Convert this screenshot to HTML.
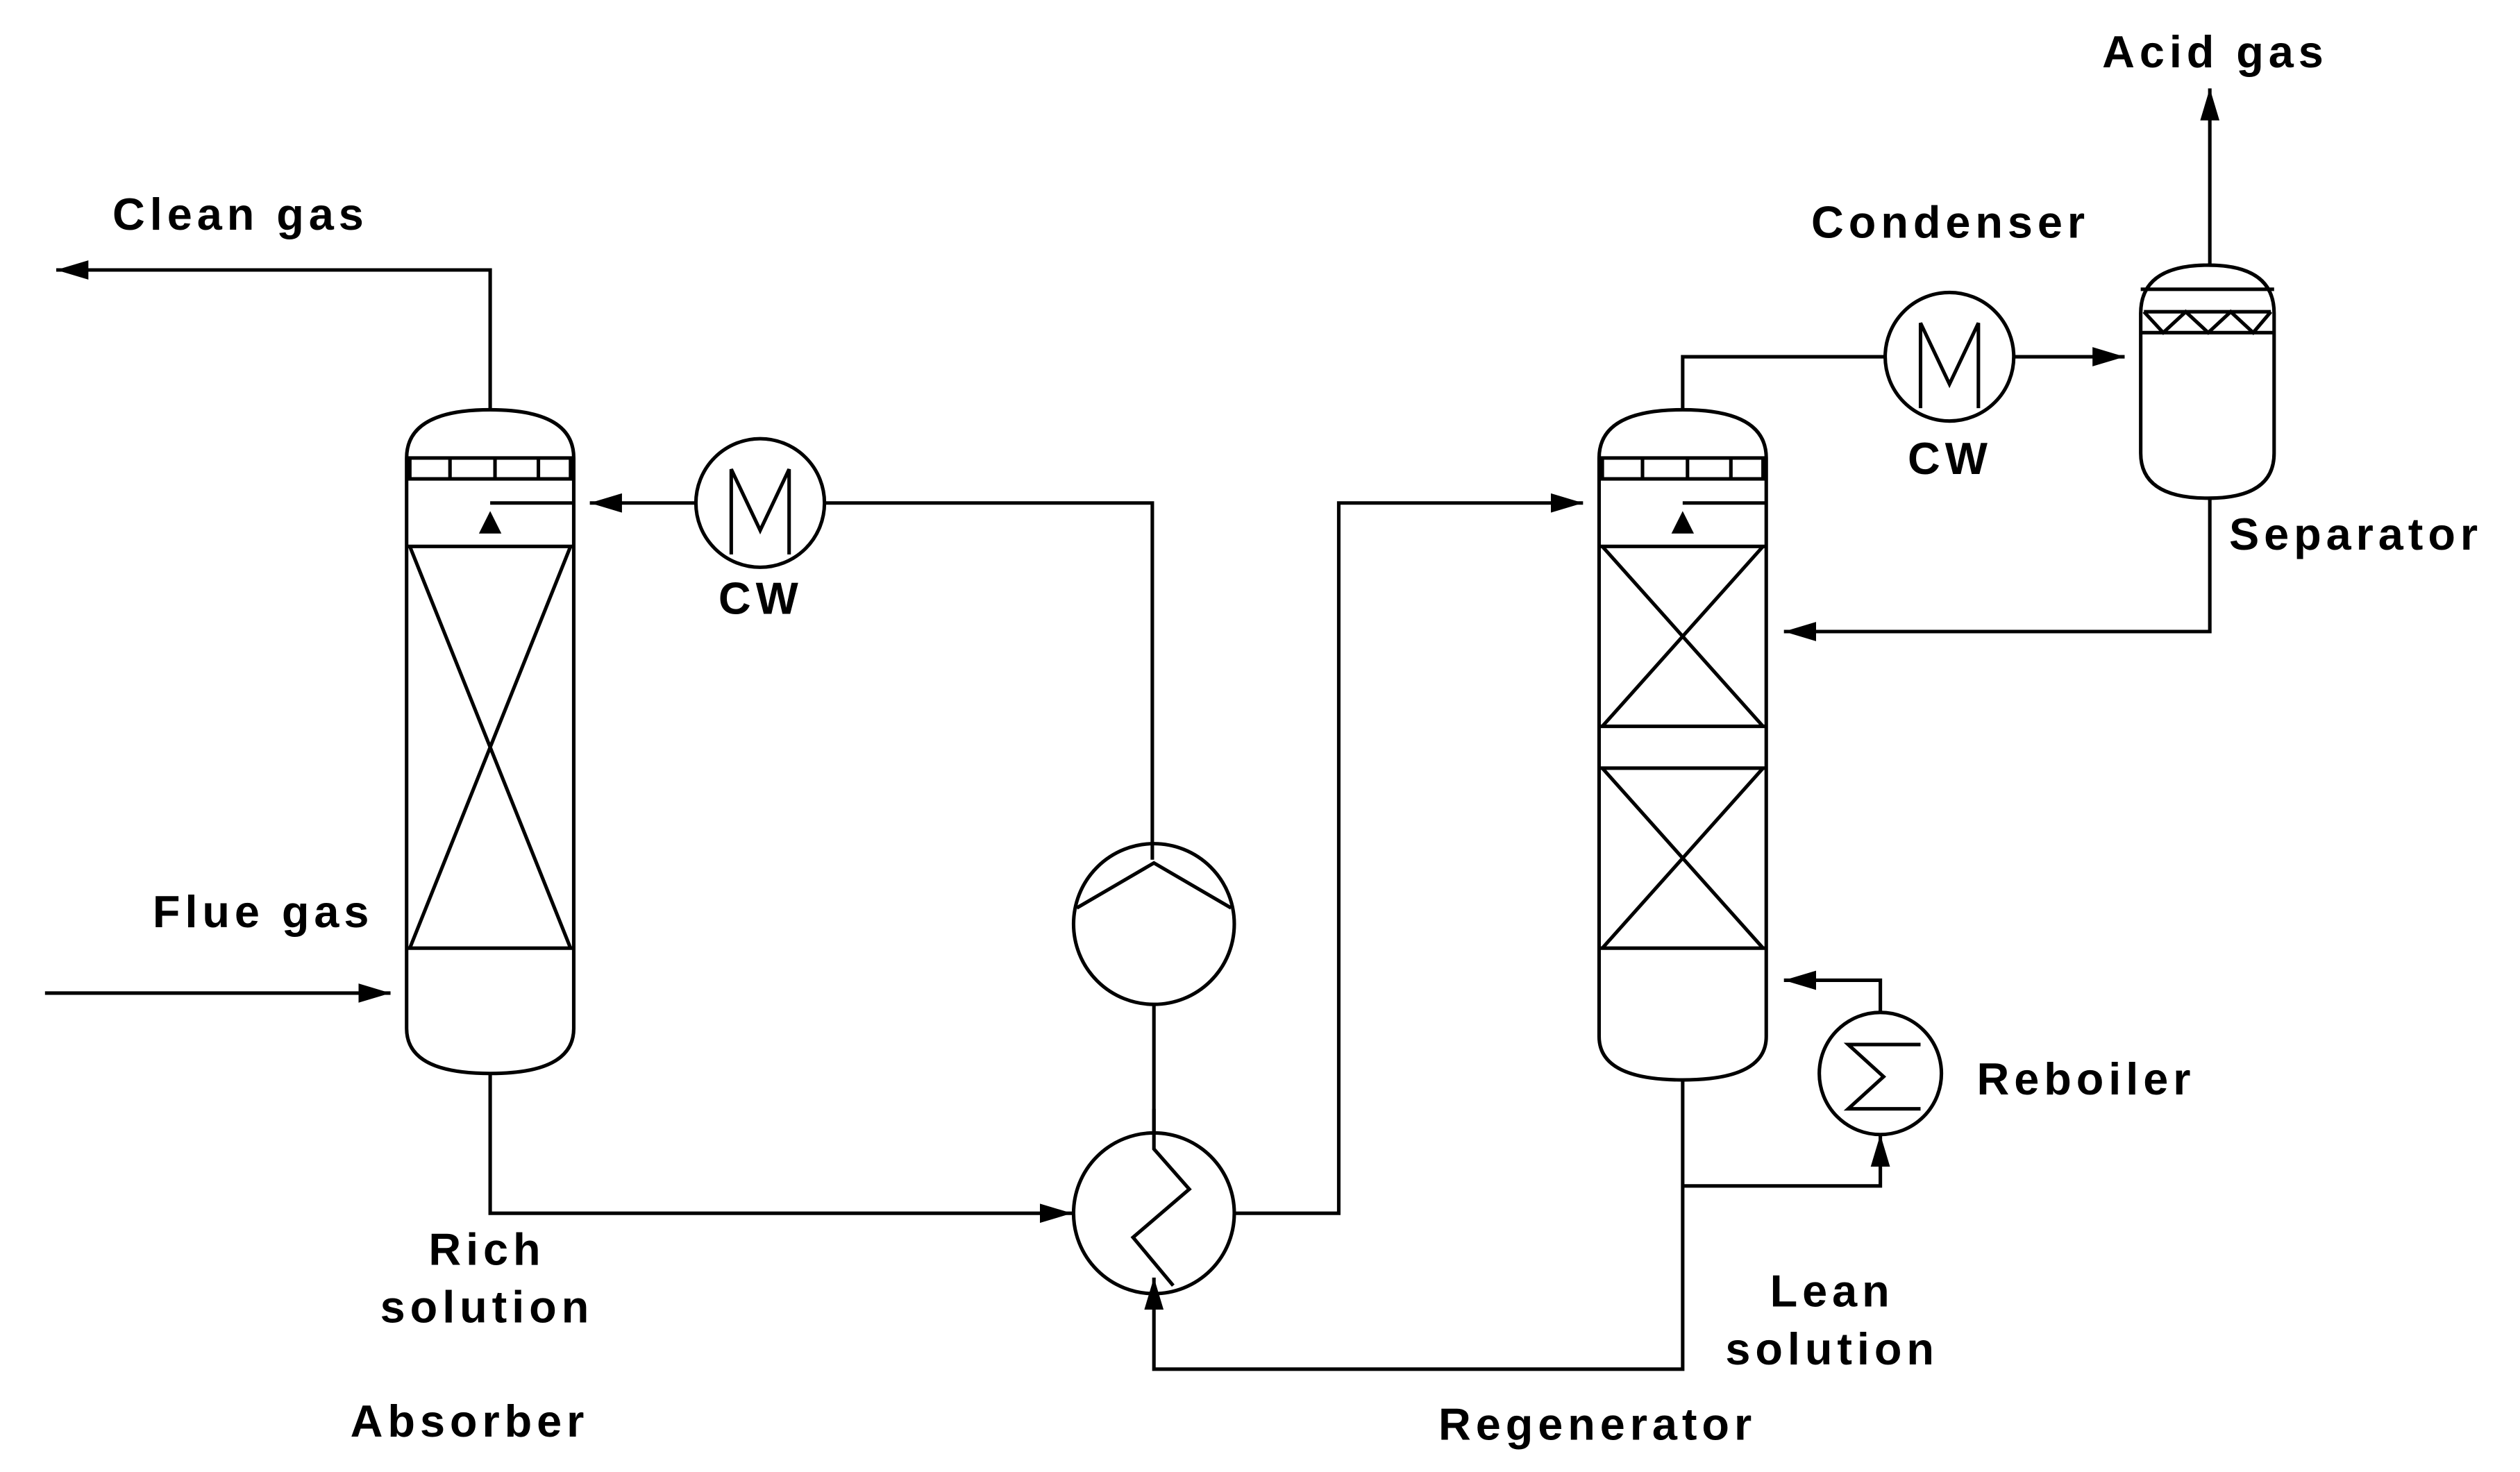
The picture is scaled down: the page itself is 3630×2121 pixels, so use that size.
<!DOCTYPE html>
<html><head><meta charset="utf-8"><style>html,body{margin:0;padding:0;background:#fff}svg{display:block}</style></head>
<body>
<svg width="3630" height="2121" viewBox="0 0 1568 916" preserveAspectRatio="none" xmlns="http://www.w3.org/2000/svg">
<defs>
<marker id="b" viewBox="0 0 20 12" markerWidth="20" markerHeight="12" refX="20" refY="6" orient="auto" markerUnits="userSpaceOnUse"><path d="M0,0 L20,6 L0,12z"/></marker></defs>
<g fill="none" stroke="#000" stroke-width="2.2">
<path d="M253,285 Q253,255 305,255 Q357,255 357,285 L357,640 Q357,668 305,668 Q253,668 253,640 Z"/>
<rect x="255" y="285" width="100" height="13"/>
<line x1="280" y1="285" x2="280" y2="298"/><line x1="308" y1="285" x2="308" y2="298"/><line x1="335" y1="285" x2="335" y2="298"/>
<line x1="253" y1="340" x2="357" y2="340"/><line x1="253" y1="590" x2="357" y2="590"/>
<line x1="255" y1="340" x2="355" y2="590"/><line x1="355" y1="340" x2="255" y2="590"/>
<line x1="305" y1="313" x2="357" y2="313"/>
<polyline points="305,255 305,168 35,168" marker-end="url(#b)"/>
<line x1="28" y1="618" x2="243" y2="618" marker-end="url(#b)"/>
<circle cx="473" cy="313" r="40"/>
<polyline points="455,345 455,292 473,330 491,292 491,345"/>
<line x1="433" y1="313" x2="367" y2="313" marker-end="url(#b)"/>
<polyline points="513,313 717,313 717,535"/>
<circle cx="718" cy="575" r="50"/>
<polyline points="670,565 718,537 766,565"/>
<line x1="718" y1="625" x2="718" y2="705"/>
<circle cx="718" cy="755" r="50"/>
<polyline points="718,690 718,715 740,740 705,770 730,800"/>
<polyline points="305,668 305,755 667,755" marker-end="url(#b)"/>
<polyline points="768,755 833,755 833,313 985,313" marker-end="url(#b)"/>
<polyline points="1047,672 1047,852 718,852 718,795" marker-end="url(#b)"/>
<path d="M995,285 Q995,255 1047,255 Q1099,255 1099,285 L1099,645 Q1099,672 1047,672 Q995,672 995,645 Z"/>
<rect x="997" y="285" width="100" height="13"/>
<line x1="1022" y1="285" x2="1022" y2="298"/><line x1="1050" y1="285" x2="1050" y2="298"/><line x1="1077" y1="285" x2="1077" y2="298"/>
<line x1="1047" y1="313" x2="1099" y2="313"/>
<line x1="995" y1="340" x2="1099" y2="340"/><line x1="995" y1="452" x2="1099" y2="452"/>
<line x1="995" y1="478" x2="1099" y2="478"/><line x1="995" y1="590" x2="1099" y2="590"/>
<line x1="997" y1="340" x2="1097" y2="452"/><line x1="1097" y1="340" x2="997" y2="452"/>
<line x1="997" y1="478" x2="1097" y2="590"/><line x1="1097" y1="478" x2="997" y2="590"/>
<polyline points="1047,255 1047,222 1173,222"/>
<circle cx="1213" cy="222" r="40"/>
<polyline points="1195,254 1195,201 1213,239 1231,201 1231,254"/>
<line x1="1253" y1="222" x2="1322" y2="222" marker-end="url(#b)"/>
<path d="M1332,195 Q1332,165 1374,165 Q1415,165 1415,195 L1415,282 Q1415,310 1374,310 Q1332,310 1332,282 Z"/>
<line x1="1332" y1="180" x2="1415" y2="180"/><line x1="1332" y1="207" x2="1415" y2="207"/>
<polyline points="1334,194 1346,207 1360,194 1374,207 1388,194 1402,207 1413,194"/>
<line x1="1334" y1="194" x2="1413" y2="194"/>
<line x1="1375" y1="165" x2="1375" y2="55" marker-end="url(#b)"/>
<polyline points="1375,310 1375,393 1110,393" marker-end="url(#b)"/>
<circle cx="1170" cy="668" r="38"/>
<polyline points="1195,650 1150,650 1172,670 1150,690 1195,690"/>
<polyline points="1170,630 1170,610 1110,610" marker-end="url(#b)"/>
<polyline points="1047,738 1170,738 1170,706" marker-end="url(#b)"/>
</g>
<path d="M298,332 L305,318 L312,332Z"/><path d="M1040,332 L1047,318 L1054,332Z"/>
<g font-family="Liberation Sans, sans-serif" font-size="28" font-weight="bold" fill="#000" style="letter-spacing:3px">
<text x="70" y="143">Clean gas</text>
<text x="95" y="577">Flue gas</text>
<text x="447" y="382">CW</text>
<text x="1187" y="295">CW</text>
<text x="1308" y="42">Acid gas</text>
<text x="1127" y="148">Condenser</text>
<text x="1387" y="342">Separator</text>
<text x="1230" y="681">Reboiler</text>
<text x="303" y="787" text-anchor="middle">Rich</text>
<text x="303" y="823" text-anchor="middle">solution</text>
<text x="218" y="894">Absorber</text>
<text x="1140" y="813" text-anchor="middle">Lean</text>
<text x="1140" y="849" text-anchor="middle">solution</text>
<text x="895" y="896">Regenerator</text>
</g>
</svg>
</body></html>
